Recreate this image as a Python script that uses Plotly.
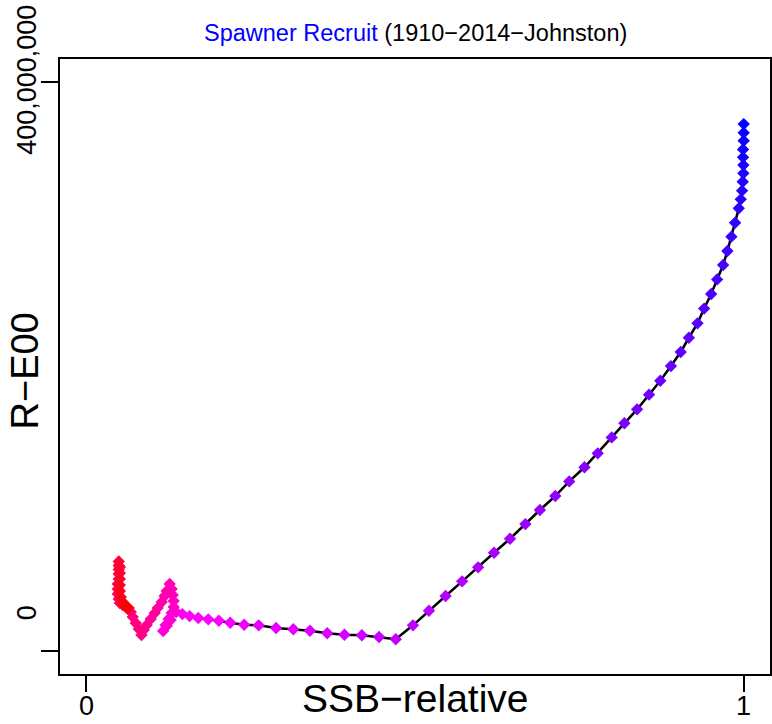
import plotly.graph_objects as go

# ---- data ----
ssb_rel = [1.000, 1.000, 1.000, 0.999, 0.999, 0.9995, 0.9995, 0.9985, 0.9975, 0.9955,
           0.9925, 0.9869, 0.9813, 0.9752, 0.9687, 0.9596, 0.9505, 0.9398, 0.9297, 0.9166,
           0.9042, 0.8893, 0.8731, 0.8560, 0.8378, 0.8185, 0.7992, 0.7780, 0.7578, 0.7346,
           0.7134, 0.6900, 0.6679, 0.6445, 0.6202, 0.5960, 0.5717, 0.5465, 0.5212, 0.4969,
           0.4707, 0.4453, 0.4191, 0.3927, 0.3665, 0.3402, 0.3149, 0.2887, 0.2623, 0.2401,
           0.2189, 0.2016, 0.1855, 0.1703, 0.1571, 0.1461, 0.1367, 0.1283, 0.1223, 0.1169,
           0.1207, 0.1253, 0.1298, 0.1329, 0.1329, 0.1314, 0.1298, 0.1268, 0.1223, 0.1192,
           0.1147, 0.1086, 0.1041, 0.0980, 0.0919, 0.0874, 0.0839, 0.0798, 0.0752, 0.0707,
           0.0677, 0.0646, 0.0601, 0.0555, 0.0510, 0.0494, 0.0479, 0.0479, 0.0479, 0.0494,
           0.0494, 0.0494, 0.0494, 0.0494, 0.0510, 0.0510, 0.0510, 0.0510, 0.0510, 0.0525,
           0.0555, 0.0601, 0.0631, 0.0616, 0.0586]
recruits_m = [370.3, 364.2, 358.6, 352.5, 346.9, 341.5, 335.7, 329.8, 323.5, 317.4,
              311.1, 301.0, 291.2, 281.1, 271.3, 261.2, 250.9, 240.7, 230.3, 220.2,
              210.2, 200.3, 190.0, 180.2, 169.9, 160.1, 150.2, 139.0, 129.2, 119.3,
              109.0, 99.2, 89.3, 79.0, 69.2, 58.9, 49.1, 38.8, 28.4, 18.2,
              8.4, 10.0, 11.2, 11.6, 12.6, 14.4, 15.4, 16.3, 18.2, 18.6,
              20.0, 21.4, 22.4, 23.3, 24.7, 26.1, 27.5, 21.9, 17.7, 14.2,
              18.4, 22.6, 26.8, 31.0, 35.3, 39.5, 43.7, 47.2, 42.3, 38.8,
              34.6, 30.3, 26.8, 22.6, 18.4, 14.9, 11.4, 15.6, 19.8, 24.0,
              27.5, 30.3, 31.4, 32.5, 33.9, 36.7, 40.2, 43.7, 47.2, 50.7,
              54.2, 57.4, 60.2, 63.0, 59.1, 54.9, 50.7, 46.5, 42.3, 38.1,
              34.6, 31.7, 30.3, 31.0, 31.7]
recruits = [v * 1e6 for v in recruits_m]

x_ticks = [0, 1]
x_tick_labels = ["0", "1"]
y_ticks = [0, 400e6]
y_tick_labels = ["0", "400,000,000"]

title_main = "Spawner Recruit"
title_sub = "(1910\u22122014\u2212Johnston)"
x_title = "SSB\u2212relative"
y_title = "R\u2212E00"

FONT = "Liberation Sans, Arial, Helvetica, sans-serif"

# colour ramp blue -> magenta -> red along the path
n = len(ssb_rel)
colors = []
for i in range(n):
    t = i / (n - 1)
    if t <= 0.5:
        r, b = int(round(255 * 2 * t)), 255
    else:
        r, b = 255, int(round(255 * (2 - 2 * t)))
    colors.append(f"rgb({r},0,{b})")

fig = go.Figure()
fig.add_trace(go.Scatter(x=ssb_rel, y=recruits, mode="lines",
                         line=dict(color="black", width=2.5), hoverinfo="skip"))
fig.add_trace(go.Scatter(x=ssb_rel, y=recruits, mode="markers",
                         marker=dict(symbol="diamond", size=9.5, color=colors,
                                     line=dict(width=0))))

axis_common = dict(showline=True, linewidth=2, linecolor="black", mirror=True,
                   ticks="outside", tickwidth=2, tickcolor="black",
                   showticklabels=False, showgrid=False, zeroline=False)

fig.update_xaxes(range=[-0.04, 1.04], tickvals=x_ticks, ticklen=16, **axis_common)
fig.update_yaxes(range=[-16e6, 416e6], tickvals=y_ticks, ticklen=17, **axis_common)

annotations = []
# x tick labels
for v, lab in zip(x_ticks, x_tick_labels):
    annotations.append(dict(x=v, y=0, xref="x", yref="paper", text=lab, showarrow=False,
                            yanchor="middle", xanchor="center", yshift=-32,
                            font=dict(family=FONT, size=27, color="black")))
# y tick labels (rotated)
for v, lab in zip(y_ticks, y_tick_labels):
    annotations.append(dict(x=0, y=v, xref="paper", yref="y", text=lab, showarrow=False,
                            textangle=-90, xanchor="center", yanchor="middle",
                            xshift=-33, yshift=(38 if v == 0 else 2),
                            font=dict(family=FONT, size=27, color="black")))
# axis titles
annotations.append(dict(x=0.5, y=0, xref="paper", yref="paper", text=x_title,
                        showarrow=False, xanchor="center", yanchor="middle", yshift=-24,
                        font=dict(family=FONT, size=39, color="black")))
annotations.append(dict(x=0, y=0.5, xref="paper", yref="paper", text=y_title,
                        showarrow=False, textangle=-90, xanchor="center", yanchor="middle",
                        xshift=-36, yshift=-5,
                        font=dict(family=FONT, size=38, color="black")))
# title
annotations.append(dict(x=0.5, y=1, xref="paper", yref="paper",
                        text=f'<span style="color:blue">{title_main}</span> {title_sub}',
                        showarrow=False, xanchor="center", yanchor="middle", yshift=26,
                        font=dict(family=FONT, size=23.5, color="black")))

fig.update_layout(width=772, height=724, margin=dict(l=60, r=0, t=59, b=50),
                  plot_bgcolor="white", paper_bgcolor="white", showlegend=False,
                  annotations=annotations)

fig.write_html("out.html", config={"displayModeBar": False},
               post_script="document.body.style.margin='0';"
                           "document.body.style.overflow='hidden';")
